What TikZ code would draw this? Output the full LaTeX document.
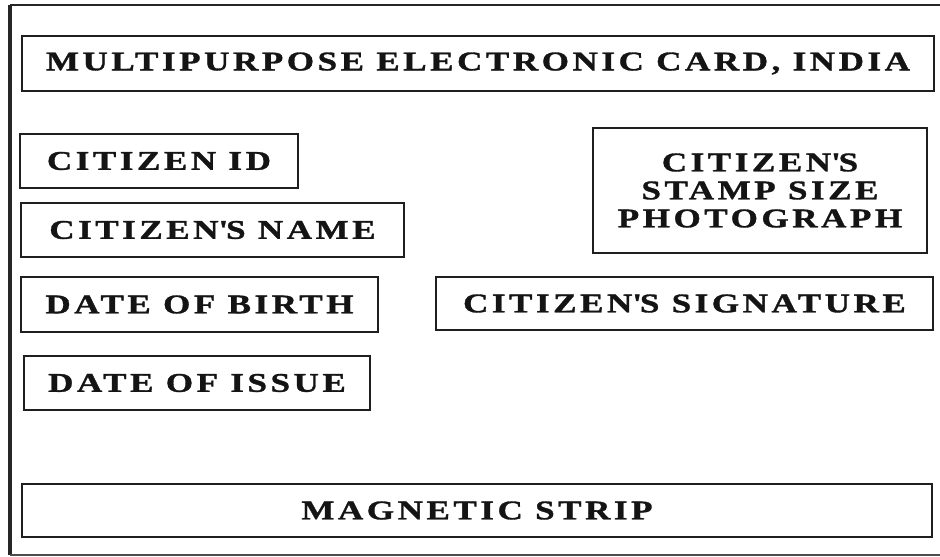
\documentclass[tikz,border=0pt]{standalone}
\usepackage{fontspec}
\setmainfont{Liberation Serif}[FakeStretch=1.3, LetterSpace=13, BoldFeatures={FakeBold=1.2}]
\begin{document}
\begin{tikzpicture}[x=1pt,y=-1pt,
  field/.style={draw=black!88, line width=2.6pt, rectangle, inner sep=0pt,
    font=\fontsize{27}{28}\selectfont\bfseries, text=black!92, align=center},
  frame/.style={draw=black!85}]
\useasboundingbox (0,0) rectangle (940,557);
\fill[white] (0,0) rectangle (940,557);
% outer card frame
\coordinate (ftl) at (10,5);
\coordinate (fbl) at (10,555);
\coordinate (ftr) at (946,5);
\coordinate (fbr) at (946,555);
\draw[frame, line width=2pt] (ftr) -- (ftl);
\draw[frame, line width=4pt] (ftl) -- (fbl);
\draw[frame, line width=2pt, draw=black!70] (fbl) -- (fbr);
% fields
\node[field, minimum width=912, minimum height=55] (title) at (478,63.5) {MULTIPURPOSE ELECTRONIC CARD, INDIA};
\node[field, minimum width=278, minimum height=54] (cid) at (159,161) {CITIZEN ID};
\node[field, minimum width=383, minimum height=54] (name) at (212.5,230) {CITIZEN\textquotesingle S NAME};
\node[field, minimum width=357, minimum height=55] (dob) at (199.5,304.5) {DATE OF BIRTH};
\node[field, minimum width=346, minimum height=54] (doi) at (197,383) {DATE OF ISSUE};
\node[field, minimum width=334, minimum height=125] (photo) at (760,190.5) {CITIZEN\textquotesingle S\\STAMP SIZE\\PHOTOGRAPH};
\node[field, minimum width=497, minimum height=53] (sig) at (684.5,303.5) {CITIZEN\textquotesingle S SIGNATURE};
\node[field, minimum width=910, minimum height=53] (mag) at (477,510.5) {MAGNETIC STRIP};
\end{tikzpicture}
\end{document}
